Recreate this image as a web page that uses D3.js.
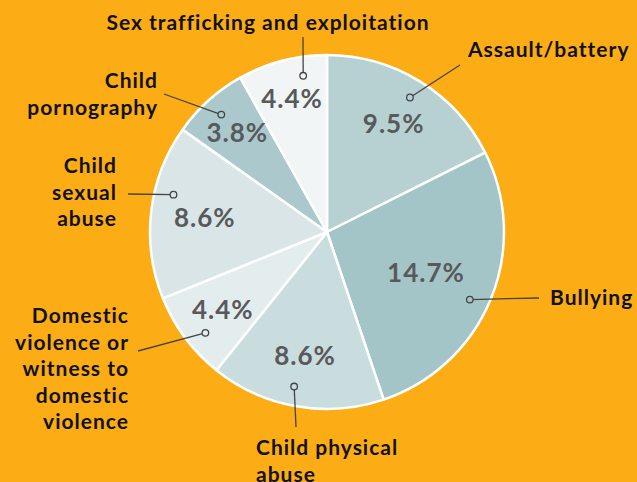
<!DOCTYPE html>
<html>
<head>
<meta charset="utf-8">
<script src="https://cdn.jsdelivr.net/npm/d3@7"></script>
<style>
    body { margin: 0; background: #fcac14; }
    svg { display: block; }
    .label { font-family: Lato, "Open Sans", sans-serif; font-weight: 700; font-size: 21px; letter-spacing: 1px; fill: #111; }
    .pct { font-family: Lato, "Open Sans", sans-serif; font-weight: 700; font-size: 26px; letter-spacing: 1px; fill: #58595b; }
</style>
</head>
<body>
<svg id="chart" width="637" height="482"></svg>
<script>
var categories = ["Assault/battery", "Bullying", "Child physical abuse",
    "Domestic violence or witness to domestic violence", "Child sexual abuse",
    "Child pornography", "Sex trafficking and exploitation"];
var values = [9.5, 14.7, 8.6, 4.4, 8.6, 3.8, 4.4];
var colors = ["#b7d1d3", "#a4c5c8", "#c9dcde", "#e4eded", "#d9e5e7", "#abc9cc", "#f1f5f6"];

// where each category's text sits, and where its leader line ends
var layout = {
    "Assault/battery": {lines: ["Assault/battery"], x: 468, y: 57, anchor: "start", end: [460, 65], pctR: 127, dotShift: 0},
    "Bullying": {lines: ["Bullying"], x: 550, y: 305, anchor: "start", end: [539, 298], pctR: 107, dotShift: 3},
    "Child physical abuse": {lines: ["Child physical", "abuse"], x: 256, y: 455, anchor: "start", end: [296, 427], pctR: 126, dotShift: 2},
    "Domestic violence or witness to domestic violence": {lines: ["Domestic", "violence or", "witness to", "domestic", "violence"], x: 129, y: 323, anchor: "end", end: [138, 351], pctR: 130, dotShift: -3},
    "Child sexual abuse": {lines: ["Child", "sexual", "abuse"], x: 117, y: 173, anchor: "end", end: [128, 194], pctR: 123, dotShift: 7},
    "Child pornography": {lines: ["Child", "pornography"], x: 158, y: 88, anchor: "end", end: [164, 94], pctR: 134, dotShift: 0},
    "Sex trafficking and exploitation": {lines: ["Sex trafficking and exploitation"], x: 268, y: 30, anchor: "middle", end: [303, 37], pctR: 138, dotShift: 6}
};

var data = categories.map(function (c, i) {
    return {label: c, size: values[i], color: colors[i]};
});

var cx = 327, cy = 232, radius = 177;

var svg = d3.select("#chart");

var pie = d3.pie()
    .sort(null)
    .value(function (d) { return d.size; });

var arc = d3.arc()
    .outerRadius(radius)
    .innerRadius(0);

var arcs = pie(data);

var g = svg.append("g")
    .attr("transform", "translate(" + cx + "," + cy + ")");

g.selectAll(".slice")
    .data(arcs)
    .enter().append("path")
    .attr("class", "slice")
    .attr("d", arc)
    .attr("fill", function (d) { return d.data.color; })
    .attr("stroke", "#fff")
    .attr("stroke-width", 2.5)
    .attr("stroke-linejoin", "round");

function polar(angle, r) {
    return [cx + r * Math.sin(angle), cy - r * Math.cos(angle)];
}

function midAngle(d) {
    return (d.startAngle + d.endAngle) / 2;
}

// percentage labels
svg.selectAll(".pct")
    .data(arcs)
    .enter().append("text")
    .attr("class", "pct")
    .attr("text-anchor", "middle")
    .attr("dy", "0.35em")
    .attr("x", function (d) { return polar(midAngle(d), layout[d.data.label].pctR)[0]; })
    .attr("y", function (d) { return polar(midAngle(d), layout[d.data.label].pctR)[1]; })
    .text(function (d) { return d3.format(".1f")(d.data.size) + "%"; });

// leader lines
var leaders = svg.selectAll(".leader")
    .data(arcs)
    .enter().append("g")
    .attr("class", "leader");

function dotPos(d) {
    var a = midAngle(d) + layout[d.data.label].dotShift * Math.PI / 180;
    return polar(a, 158);
}

leaders.append("line")
    .attr("x1", function (d) { return dotPos(d)[0]; })
    .attr("y1", function (d) { return dotPos(d)[1]; })
    .attr("x2", function (d) { return layout[d.data.label].end[0]; })
    .attr("y2", function (d) { return layout[d.data.label].end[1]; })
    .attr("stroke", "#444")
    .attr("stroke-width", 1.3);

leaders.append("circle")
    .attr("cx", function (d) { return dotPos(d)[0]; })
    .attr("cy", function (d) { return dotPos(d)[1]; })
    .attr("r", 3.3)
    .attr("fill", function (d) { return d.data.color; })
    .attr("stroke", "#444")
    .attr("stroke-width", 1.3);

// category labels
var labels = svg.selectAll(".label")
    .data(arcs)
    .enter().append("text")
    .attr("class", "label")
    .attr("text-anchor", function (d) { return layout[d.data.label].anchor; });

labels.selectAll("tspan")
    .data(function (d) {
        var l = layout[d.data.label];
        return l.lines.map(function (t) { return {text: t, x: l.x, y: l.y}; });
    })
    .enter().append("tspan")
    .attr("x", function (t) { return t.x; })
    .attr("y", function (t, i) { return t.y + i * 26.5; })
    .text(function (t) { return t.text; });
</script>
</body>
</html>
